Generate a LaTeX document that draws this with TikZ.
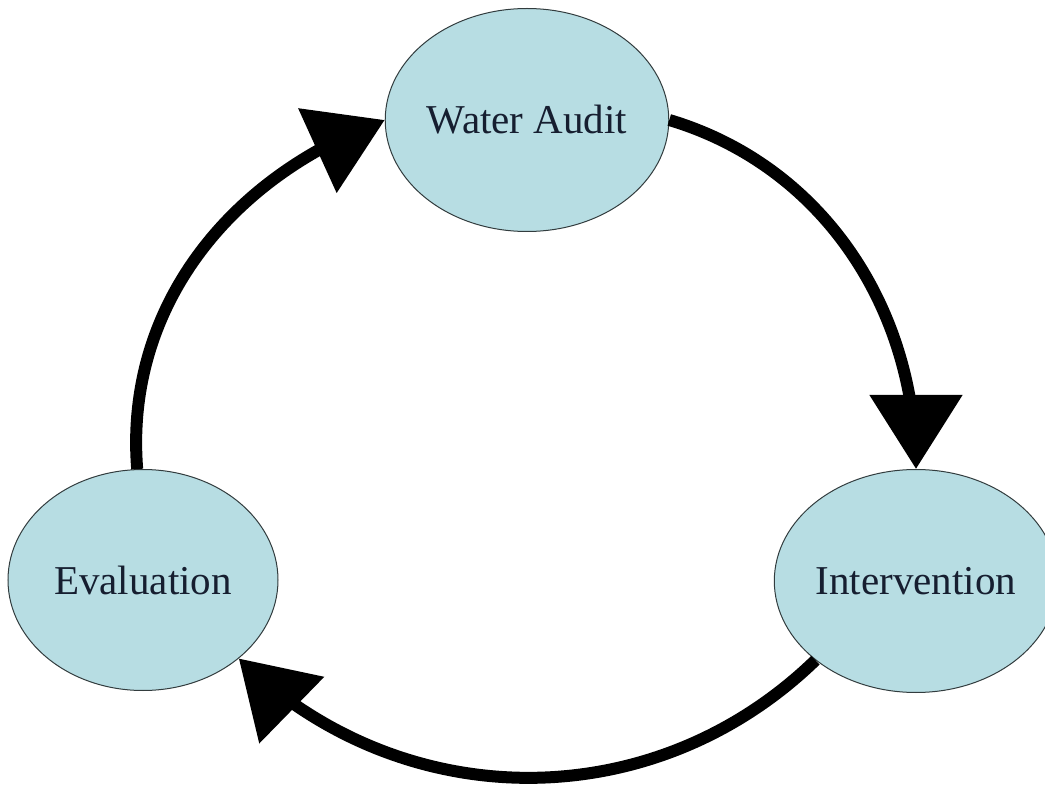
\documentclass[tikz,border=0pt]{standalone}
\usepackage{fontspec}
\setmainfont{Liberation Serif}
\usetikzlibrary{arrows.meta,bending,shapes.geometric}
\definecolor{stagefill}{RGB}{183,221,227}
\definecolor{stageline}{RGB}{50,60,62}
\definecolor{stagetext}{RGB}{22,30,48}
\begin{document}
\begin{tikzpicture}[x=1pt,y=-1pt,
  stage/.style={ellipse, draw=stageline, line width=1pt, fill=stagefill,
    inner sep=0pt, text=stagetext,
    font=\fontsize{41}{48}\selectfont},
  cycle/.style={line width=12pt, black,
    -{Triangle[length=74pt,width=90pt,#1]}},
  cycle/.default={flex}]
  \useasboundingbox (0,0) rectangle (1045,786);

  % the three stages of the cycle
  \node[stage, minimum width=270pt, minimum height=223pt] (audit) at (527,120) {Water Audit};
  \node[stage, minimum width=270pt, minimum height=223pt] (interv) at (916,581) {Intervention};
  \node[stage, minimum width=270pt, minimum height=221pt] (evalu) at (143,580) {Evaluation};

  % curved arrows running clockwise between them
  \draw[cycle={flex=0}] (audit.east) .. controls +(154,46) and +(0,-160) .. (interv.north);
  \draw[cycle={flex=0}] (interv.south west) .. controls +(-163,158) and +(162,158) .. (evalu.south east);
  \draw[cycle] (evalu.93) .. controls +(-13,-163) and +(-153,55) .. (audit.west);
\end{tikzpicture}
\end{document}
